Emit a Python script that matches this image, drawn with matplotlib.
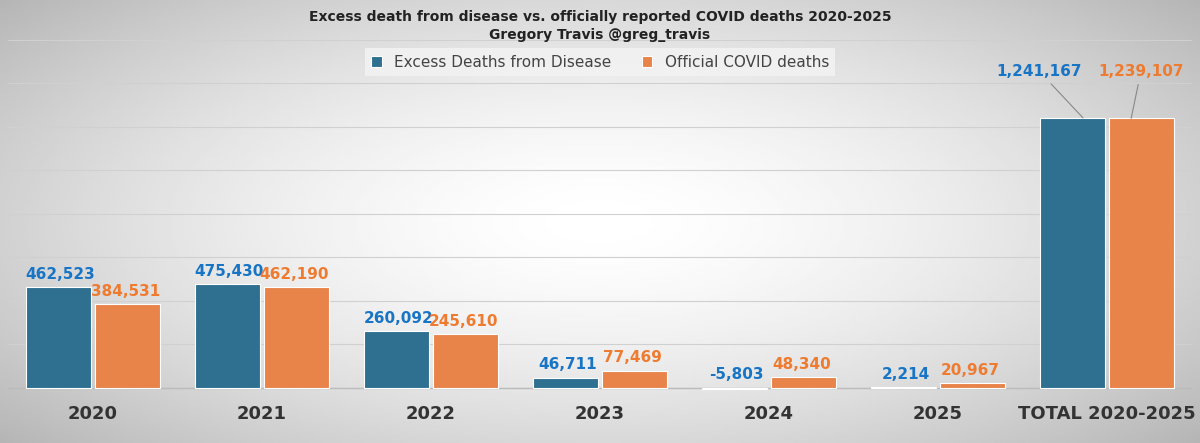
import numpy as np
import matplotlib
matplotlib.use('Agg')
import matplotlib.pyplot as plt

categories = ["2020", "2021", "2022", "2023", "2024", "2025", "TOTAL 2020-2025"]
excess = [462523, 475430, 260092, 46711, -5803, 2214, 1241167]
covid = [384531, 462190, 245610, 77469, 48340, 20967, 1239107]

BLUE, ORANGE = "#2F6F8F", "#E8834A"
BLUE_TXT, ORANGE_TXT = "#1874C4", "#EE7B30"

fig = plt.figure(figsize=(12, 4.43), dpi=100)

# radial gray gradient background
bg = fig.add_axes([0, 0, 1, 1], zorder=0)
yy, xx = np.mgrid[-1:1:200j, -1:1:400j]
r = np.sqrt(xx**2 + (yy * 0.9)**2)
bg.imshow(np.clip(1 - 0.18 * r**1.6, 0, 1), cmap="gray", vmin=0, vmax=1,
          aspect="auto", extent=[0, 1, 0, 1])
bg.axis("off")

ax = fig.add_axes([0.007, 0.11, 0.986, 0.80], zorder=1)
ax.patch.set_alpha(0)
x = np.arange(len(categories))
w = 0.385
b1 = ax.bar(x - w / 2 - 0.01, excess, w, color=BLUE, edgecolor="white", linewidth=0.8,
            label="Excess Deaths from Disease", zorder=3)
b2 = ax.bar(x + w / 2 + 0.01, covid, w, color=ORANGE, edgecolor="white", linewidth=0.8,
            label="Official COVID deaths", zorder=3)

ax.set_xlim(-0.5, len(categories) - 0.5)
ax.set_ylim(-30000, 1600000)
ax.set_yticks(np.arange(0, 1600001, 200000))
ax.yaxis.grid(True, color="#D0D0D0", linewidth=0.8, zorder=0)
ax.tick_params(axis="y", left=False, labelleft=False)
ax.tick_params(axis="x", length=0, pad=8)
ax.set_xticks(x)
ax.set_xticklabels(categories, fontsize=13, fontweight="bold", color="#333333")
for s in ax.spines.values():
    s.set_visible(False)
ax.axhline(0, color="#BBBBBB", linewidth=1, zorder=2)

for i in range(len(categories) - 1):
    ax.text(x[i] - w / 2, max(excess[i], 0) + 25000, f"{excess[i]:,}", ha="center",
            va="bottom", fontsize=11, fontweight="bold", color=BLUE_TXT)
    ax.text(x[i] + w / 2, covid[i] + 25000, f"{covid[i]:,}", ha="center",
            va="bottom", fontsize=11, fontweight="bold", color=ORANGE_TXT)

# total labels with leader lines
t = len(categories) - 1
ax.annotate(f"{excess[t]:,}", xy=(x[t] - w / 2 + 0.05, excess[t]), xytext=(x[t] - 0.4, 1420000),
            ha="center", va="bottom", fontsize=11, fontweight="bold", color=BLUE_TXT,
            arrowprops=dict(arrowstyle="-", color="#888888", lw=0.8, shrinkA=2, shrinkB=0))
ax.annotate(f"{covid[t]:,}", xy=(x[t] + w / 2 - 0.05, covid[t]), xytext=(x[t] + 0.2, 1420000),
            ha="center", va="bottom", fontsize=11, fontweight="bold", color=ORANGE_TXT,
            arrowprops=dict(arrowstyle="-", color="#888888", lw=0.8, shrinkA=2, shrinkB=0))

fig.text(0.5, 0.962, "Excess death from disease vs. officially reported COVID deaths 2020-2025",
         ha="center", va="center", fontsize=10, fontweight="bold", color="#222222")
fig.text(0.5, 0.922, "Gregory Travis @greg_travis", ha="center", va="center",
         fontsize=10, fontweight="bold", color="#222222")
leg = fig.legend(loc="center", bbox_to_anchor=(0.5, 0.86), ncol=2, frameon=True,
                 fontsize=11, handlelength=0.7, handleheight=0.7, columnspacing=2,
                 fancybox=False, edgecolor="none", facecolor="#F2F2F2")
leg.get_frame().set_alpha(0.9)
for txt in leg.get_texts():
    txt.set_color("#444444")

fig.savefig("out.png", dpi=100)
